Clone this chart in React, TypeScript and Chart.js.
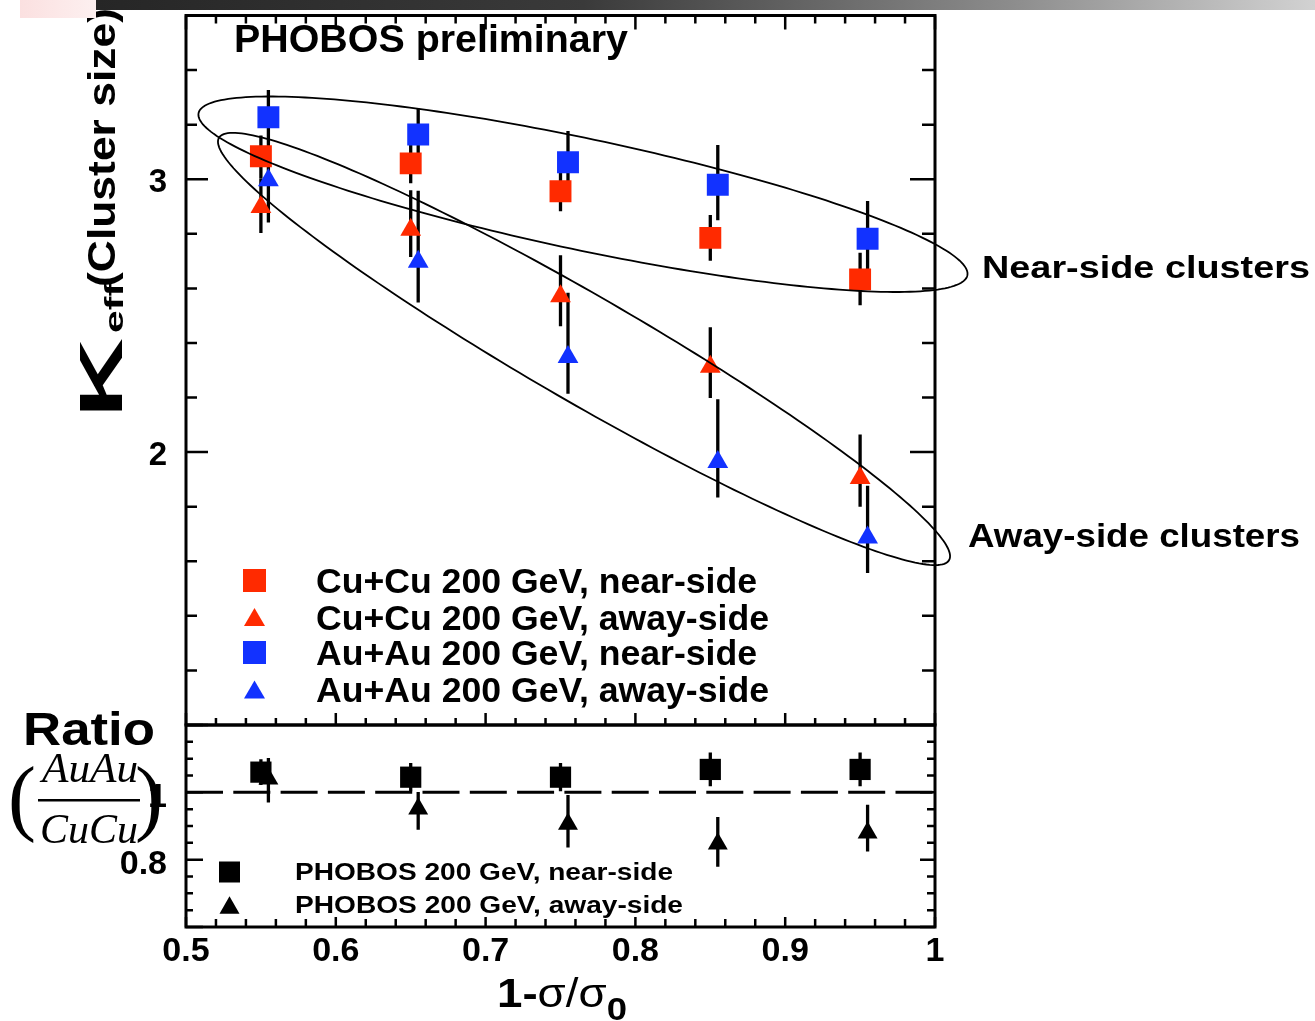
import React, { useEffect, useRef } from 'react';
import { Chart, registerables } from 'chart.js';

Chart.register(...registerables);

const W = 1315;
const H = 1021;
const FONT = '"Liberation Sans", Arial, Helvetica, sans-serif';
const SERIF = '"Liberation Serif", "Times New Roman", serif';
const RED = '#ff2a00';
const BLUE = '#1232ff';

// ---------- data ----------
const centralityCu = [0.55, 0.65, 0.75, 0.85, 0.95];
const centralityAu = [0.555, 0.655, 0.755, 0.855, 0.955];

const cuNear = [3.084, 3.058, 2.956, 2.785, 2.633];
const cuNearErrLo = [0.08, 0.073, 0.073, 0.084, 0.095];
const cuNearErrHi = [0.076, 0.07, 0.076, 0.084, 0.098];

const cuAway = [2.898, 2.815, 2.571, 2.313, 1.905];
const cuAwayErrLo = [0.095, 0.1, 0.11, 0.115, 0.105];
const cuAwayErrHi = [0.105, 0.145, 0.15, 0.145, 0.16];

const auNear = [3.227, 3.164, 3.062, 2.98, 2.782];
const auNearErrLo = [0.1, 0.095, 0.1, 0.13, 0.185];
const auNearErrHi = [0.1, 0.095, 0.115, 0.145, 0.138];

const auAway = [2.996, 2.698, 2.349, 1.964, 1.687];
const auAwayErrLo = [0.155, 0.15, 0.135, 0.13, 0.13];
const auAwayErrHi = [0.16, 0.26, 0.235, 0.23, 0.19];

const ratioXNear = [0.55, 0.65, 0.75, 0.85, 0.95];
const ratioXAway = [0.555, 0.655, 0.755, 0.855, 0.955];
const ratioNear = [1.06, 1.045, 1.045, 1.068, 1.068];
const ratioNearErr = [0.038, 0.042, 0.042, 0.05, 0.05];
const ratioAway = [1.04, 0.951, 0.906, 0.847, 0.88];
const ratioAwayErrLo = [0.07, 0.062, 0.07, 0.068, 0.056];
const ratioAwayErrHi = [0.062, 0.05, 0.086, 0.08, 0.083];

const xRange = [0.5, 1.0];
const mainYRange = [1.0, 3.6];
const ratioYRange = [0.6, 1.2];
const xTickValues = [0.5, 0.6, 0.7, 0.8, 0.9, 1];
const mainYTickValues = [2, 3];
const ratioYTickValues = [0.8, 1];
const ratioReference = 1;

const seriesLabels = [
  'Cu+Cu 200 GeV, near-side',
  'Cu+Cu 200 GeV, away-side',
  'Au+Au 200 GeV, near-side',
  'Au+Au 200 GeV, away-side',
];
const ratioLabels = ['PHOBOS 200 GeV, near-side', 'PHOBOS 200 GeV, away-side'];

// ellipses in data coordinates: centre, major half-axis vector, minor half-axis vector
const nearEllipse = { cx: 0.765, cy: 2.945, ux: 0.2566, uy: -0.2975, vx: -0.00777, vy: -0.1995 };
const awayEllipse = { cx: 0.7657, cy: 2.378, ux: 0.2437, uy: -0.7739, vx: -0.01796, vy: -0.1682 };

// ---------- helpers ----------
function fitText(ctx: CanvasRenderingContext2D, text: string, x: number, y: number, font: string, width: number, align = 'left') {
  ctx.save();
  ctx.font = font;
  const w = ctx.measureText(text).width;
  const s = width / w;
  let x0 = x;
  if (align === 'center') x0 = x - width / 2;
  if (align === 'right') x0 = x - width;
  ctx.translate(x0, y);
  ctx.scale(s, 1);
  ctx.textAlign = 'left';
  ctx.textBaseline = 'alphabetic';
  ctx.fillStyle = '#000';
  ctx.fillText(text, 0, 0);
  ctx.restore();
}

function tickList(min: number, max: number, minor: number, major: number) {
  const n = Math.round((max - min) / minor);
  const out: { v: number; major: boolean }[] = [];
  for (let k = 0; k <= n; k++) {
    const v = min + k * minor;
    const r = v / major;
    out.push({ v, major: Math.abs(r - Math.round(r)) < 1e-6 });
  }
  return out;
}

function drawFrame(chart: any, spec: any) {
  const { ctx, chartArea: a, scales } = chart;
  const xs = scales.x;
  const ys = scales.y;
  ctx.save();
  ctx.strokeStyle = '#000';
  ctx.lineWidth = 3;
  ctx.strokeRect(a.left, a.top, a.right - a.left, a.bottom - a.top);
  ctx.lineWidth = 2.5;
  ctx.beginPath();
  for (const t of tickList(xs.min, xs.max, spec.xMinor, spec.xMajor)) {
    const px = xs.getPixelForValue(t.v);
    if (spec.xTop) {
      const l = t.major ? spec.xTop[0] : spec.xTop[1];
      ctx.moveTo(px, a.top);
      ctx.lineTo(px, a.top + l);
    }
    if (spec.xBottom) {
      const l = t.major ? spec.xBottom[0] : spec.xBottom[1];
      ctx.moveTo(px, a.bottom);
      ctx.lineTo(px, a.bottom - l);
    }
  }
  for (const t of tickList(ys.min, ys.max, spec.yMinor, spec.yMajor)) {
    const py = ys.getPixelForValue(t.v);
    if (spec.yLeft) {
      const l = t.major ? spec.yLeft[0] : spec.yLeft[1];
      ctx.moveTo(a.left, py);
      ctx.lineTo(a.left + l, py);
    }
    if (spec.yRight) {
      const l = t.major ? spec.yRight[0] : spec.yRight[1];
      ctx.moveTo(a.right, py);
      ctx.lineTo(a.right - l, py);
    }
  }
  ctx.stroke();
  ctx.restore();
}

function drawErrorBars(chart: any) {
  const { ctx, scales } = chart;
  ctx.save();
  ctx.strokeStyle = '#000';
  ctx.lineWidth = 3.3;
  ctx.beginPath();
  chart.data.datasets.forEach((ds: any) => {
    ds.data.forEach((p: any, j: number) => {
      const px = scales.x.getPixelForValue(p.x);
      const y1 = scales.y.getPixelForValue(p.y + ds.errHi[j]);
      const y2 = scales.y.getPixelForValue(p.y - ds.errLo[j]);
      ctx.moveTo(px, y1);
      ctx.lineTo(px, y2);
    });
  });
  ctx.stroke();
  ctx.restore();
}

function drawEllipse(chart: any, e: any) {
  const { ctx, scales } = chart;
  ctx.save();
  ctx.strokeStyle = '#000';
  ctx.lineWidth = 1.8;
  ctx.beginPath();
  const N = 240;
  for (let k = 0; k <= N; k++) {
    const t = (k / N) * Math.PI * 2;
    const dx = e.cx + e.ux * Math.cos(t) + e.vx * Math.sin(t);
    const dy = e.cy + e.uy * Math.cos(t) + e.vy * Math.sin(t);
    const px = scales.x.getPixelForValue(dx);
    const py = scales.y.getPixelForValue(dy);
    if (k === 0) ctx.moveTo(px, py);
    else ctx.lineTo(px, py);
  }
  ctx.closePath();
  ctx.stroke();
  ctx.restore();
}

function drawSymbol(ctx: CanvasRenderingContext2D, style: string, cx: number, cy: number, size: number, color: string) {
  ctx.save();
  ctx.fillStyle = color;
  if (style === 'rect') {
    ctx.fillRect(cx - size / 2, cy - size / 2, size, size);
  } else {
    const r = size / Math.sqrt(3);
    const yc = cy + r / 4;
    ctx.beginPath();
    ctx.moveTo(cx, yc - r);
    ctx.lineTo(cx + size / 2, yc + r / 2);
    ctx.lineTo(cx - size / 2, yc + r / 2);
    ctx.closePath();
    ctx.fill();
  }
  ctx.restore();
}

const mainPlugin = {
  id: 'mainDeco',
  beforeDatasetsDraw(chart: any) {
    drawErrorBars(chart);
  },
  afterDatasetsDraw(chart: any) {
    drawEllipse(chart, nearEllipse);
    drawEllipse(chart, awayEllipse);
  },
  afterDraw(chart: any) {
    const ctx = chart.ctx as CanvasRenderingContext2D;
    drawFrame(chart, {
      xMinor: 0.02, xMajor: 0.1, yMinor: 0.2, yMajor: 1,
      xTop: [14, 8], xBottom: [12, 7], yLeft: [22, 11], yRight: [25, 13],
    });
    // legend
    const rows = [580.5, 617, 652.5, 689.5];
    const widths = [441, 453, 441, 453];
    chart.data.datasets.forEach((ds: any, i: number) => {
      drawSymbol(ctx, ds.pointStyle, 254.5, rows[i], ds.pointStyle === 'rect' ? 23 : 21, ds.backgroundColor);
      fitText(ctx, ds.label, 316, rows[i] + 12.5, `bold 35px ${FONT}`, widths[i]);
    });
    // annotations
    fitText(ctx, 'PHOBOS preliminary', 234, 52, `bold 38px ${FONT}`, 394);
    fitText(ctx, 'Near-side clusters', 982, 278, `bold 32px ${FONT}`, 328);
    fitText(ctx, 'Away-side clusters', 968, 547, `bold 33px ${FONT}`, 332);
    // y title
    ctx.save();
    ctx.translate(122, 418);
    ctx.rotate(-Math.PI / 2);
    fitText(ctx, 'K', 0, 0, `bold 62px ${FONT}`, 80);
    fitText(ctx, 'eff', 85, 1, `bold 26px ${FONT}`, 50);
    fitText(ctx, '(Cluster size)', 131, -7, `bold 38px ${FONT}`, 279);
    ctx.restore();
  },
};

const ratioPlugin = {
  id: 'ratioDeco',
  beforeDatasetsDraw(chart: any) {
    const { ctx, chartArea: a, scales } = chart;
    const py = scales.y.getPixelForValue(ratioReference);
    ctx.save();
    ctx.strokeStyle = '#000';
    ctx.lineWidth = 3;
    ctx.setLineDash([37, 10.3]);
    ctx.beginPath();
    ctx.moveTo(a.left, py);
    ctx.lineTo(a.right, py);
    ctx.stroke();
    ctx.restore();
    drawErrorBars(chart);
  },
  afterDraw(chart: any) {
    const ctx = chart.ctx as CanvasRenderingContext2D;
    drawFrame(chart, {
      xMinor: 0.02, xMajor: 0.1, yMinor: 0.05, yMajor: 0.2,
      xTop: null, xBottom: [10, 8], yLeft: [17, 7], yRight: [15, 8],
    });
    // legend
    const rows = [872, 905];
    const widths = [378, 388];
    chart.data.datasets.forEach((ds: any, i: number) => {
      drawSymbol(ctx, ds.pointStyle, 229.5, rows[i], ds.pointStyle === 'rect' ? 21 : 20, '#000');
      fitText(ctx, ds.label, 295, rows[i] + 8, `bold 23px ${FONT}`, widths[i]);
    });
    // Ratio label and fraction
    fitText(ctx, 'Ratio', 23, 745, `bold 46px ${FONT}`, 132);
    fitText(ctx, 'AuAu', 90, 782, `italic 42px ${SERIF}`, 96, 'center');
    ctx.save();
    ctx.fillStyle = '#000';
    ctx.fillRect(38, 799, 102, 2.5);
    ctx.restore();
    fitText(ctx, 'CuCu', 89, 843, `italic 43px ${SERIF}`, 98, 'center');
    ctx.save();
    ctx.fillStyle = '#000';
    ctx.font = `84px ${SERIF}`;
    ctx.textAlign = 'center';
    ctx.textBaseline = 'alphabetic';
    ctx.fillText('(', 22, 825);
    ctx.fillText(')', 149, 825);
    ctx.restore();
    // x title  1-σ/σ0
    ctx.save();
    const f1 = `bold 40px ${FONT}`;
    const f2 = `40px ${FONT}`;
    const f3 = `bold 32px ${FONT}`;
    ctx.font = f1; const w1 = ctx.measureText('1-').width;
    ctx.font = f2; const w2 = ctx.measureText('σ/σ').width;
    ctx.font = f3; const w3 = ctx.measureText('0').width;
    const s = 130 / (w1 + w2 + w3);
    ctx.translate(497, 1007);
    ctx.scale(s, 1);
    ctx.fillStyle = '#000';
    ctx.textBaseline = 'alphabetic';
    ctx.font = f1; ctx.fillText('1-', 0, 0);
    ctx.font = f2; ctx.fillText('σ/σ', w1, 0);
    ctx.font = f3; ctx.fillText('0', w1 + w2, 13);
    ctx.restore();
  },
};

function fixAxis(width: number | null, height: number | null) {
  return (s: any) => {
    if (width !== null) s.width = width;
    if (height !== null) s.height = height;
    s.paddingLeft = 0;
    s.paddingRight = 0;
    s.paddingTop = 0;
    s.paddingBottom = 0;
  };
}

function mk(xs: number[], ys: number[]) {
  return xs.map((x, i) => ({ x, y: ys[i] }));
}

export default function App() {
  const mainRef = useRef<HTMLCanvasElement>(null);
  const ratioRef = useRef<HTMLCanvasElement>(null);

  useEffect(() => {
    const tickFont = (size: number) => ({ family: FONT, size, weight: 'bold' as const });

    const main = new Chart(mainRef.current as HTMLCanvasElement, {
      type: 'scatter',
      data: {
        datasets: [
          { label: seriesLabels[0], data: mk(centralityCu, cuNear), pointStyle: 'rect', pointRadius: 15.5, backgroundColor: RED, borderWidth: 0, errLo: cuNearErrLo, errHi: cuNearErrHi } as any,
          { label: seriesLabels[1], data: mk(centralityCu, cuAway), pointStyle: 'triangle', pointRadius: 12, backgroundColor: RED, borderWidth: 0, errLo: cuAwayErrLo, errHi: cuAwayErrHi } as any,
          { label: seriesLabels[2], data: mk(centralityAu, auNear), pointStyle: 'rect', pointRadius: 15.5, backgroundColor: BLUE, borderWidth: 0, errLo: auNearErrLo, errHi: auNearErrHi } as any,
          { label: seriesLabels[3], data: mk(centralityAu, auAway), pointStyle: 'triangle', pointRadius: 12, backgroundColor: BLUE, borderWidth: 0, errLo: auAwayErrLo, errHi: auAwayErrHi } as any,
        ],
      },
      options: {
        responsive: false,
        animation: false,
        devicePixelRatio: 1,
        layout: { padding: { left: 0, right: W - 935, top: 11, bottom: H - 725 } },
        plugins: { legend: { display: false }, tooltip: { enabled: false } },
        scales: {
          x: { type: 'linear', min: xRange[0], max: xRange[1], display: false },
          y: {
            type: 'linear',
            min: mainYRange[0],
            max: mainYRange[1],
            afterFit: fixAxis(186, null),
            afterBuildTicks: (s: any) => { s.ticks = mainYTickValues.map((v) => ({ value: v })); },
            grid: { display: false, drawTicks: false },
            border: { display: false },
            ticks: { padding: 19, labelOffset: 4, color: '#000', font: tickFont(33), callback: (v: any) => String(v) },
          },
        },
      } as any,
      plugins: [mainPlugin],
    });

    const ratio = new Chart(ratioRef.current as HTMLCanvasElement, {
      type: 'scatter',
      data: {
        datasets: [
          { label: ratioLabels[0], data: mk(ratioXNear, ratioNear), pointStyle: 'rect', pointRadius: 15, backgroundColor: '#000', borderWidth: 0, errLo: ratioNearErr, errHi: ratioNearErr } as any,
          { label: ratioLabels[1], data: mk(ratioXAway, ratioAway), pointStyle: 'triangle', pointRadius: 11.5, backgroundColor: '#000', borderWidth: 0, errLo: ratioAwayErrLo, errHi: ratioAwayErrHi } as any,
        ],
      },
      options: {
        responsive: false,
        animation: false,
        devicePixelRatio: 1,
        layout: { padding: { left: 0, right: W - 935, top: 725, bottom: H - 927 - 60 } },
        plugins: { legend: { display: false }, tooltip: { enabled: false } },
        scales: {
          x: {
            type: 'linear',
            min: xRange[0],
            max: xRange[1],
            afterFit: fixAxis(null, 60),
            afterBuildTicks: (s: any) => { s.ticks = xTickValues.map((v) => ({ value: v })); },
            grid: { display: false, drawTicks: false },
            border: { display: false },
            ticks: { padding: 4, maxRotation: 0, autoSkip: false, color: '#000', font: tickFont(34), callback: (v: any) => String(v) },
          },
          y: {
            type: 'linear',
            min: ratioYRange[0],
            max: ratioYRange[1],
            afterFit: fixAxis(186, null),
            afterBuildTicks: (s: any) => { s.ticks = ratioYTickValues.map((v) => ({ value: v })); },
            grid: { display: false, drawTicks: false },
            border: { display: false },
            ticks: { padding: 19, labelOffset: 5, color: '#000', font: tickFont(34), callback: (v: any) => String(v) },
          },
        },
      } as any,
      plugins: [ratioPlugin],
    });

    return () => {
      main.destroy();
      ratio.destroy();
    };
  }, []);

  return (
    <div style={{ position: 'absolute', left: 0, top: 0, width: W, height: H, background: '#fff', overflow: 'hidden' }}>
      <canvas ref={mainRef} width={W} height={H} style={{ position: 'absolute', left: 0, top: 0 }} />
      <canvas ref={ratioRef} width={W} height={H} style={{ position: 'absolute', left: 0, top: 0 }} />
      <div style={{ position: 'absolute', left: 20, top: 0, width: 76, height: 18, background: 'linear-gradient(to right, #fbe0e0, #fdf0f0)' }} />
      <div style={{ position: 'absolute', left: 96, top: 0, width: W - 96, height: 10, background: 'linear-gradient(to right, #262626 0%, #3a3a3a 40%, #8c8c8c 75%, #d2d2d2 100%)' }} />
    </div>
  );
}
